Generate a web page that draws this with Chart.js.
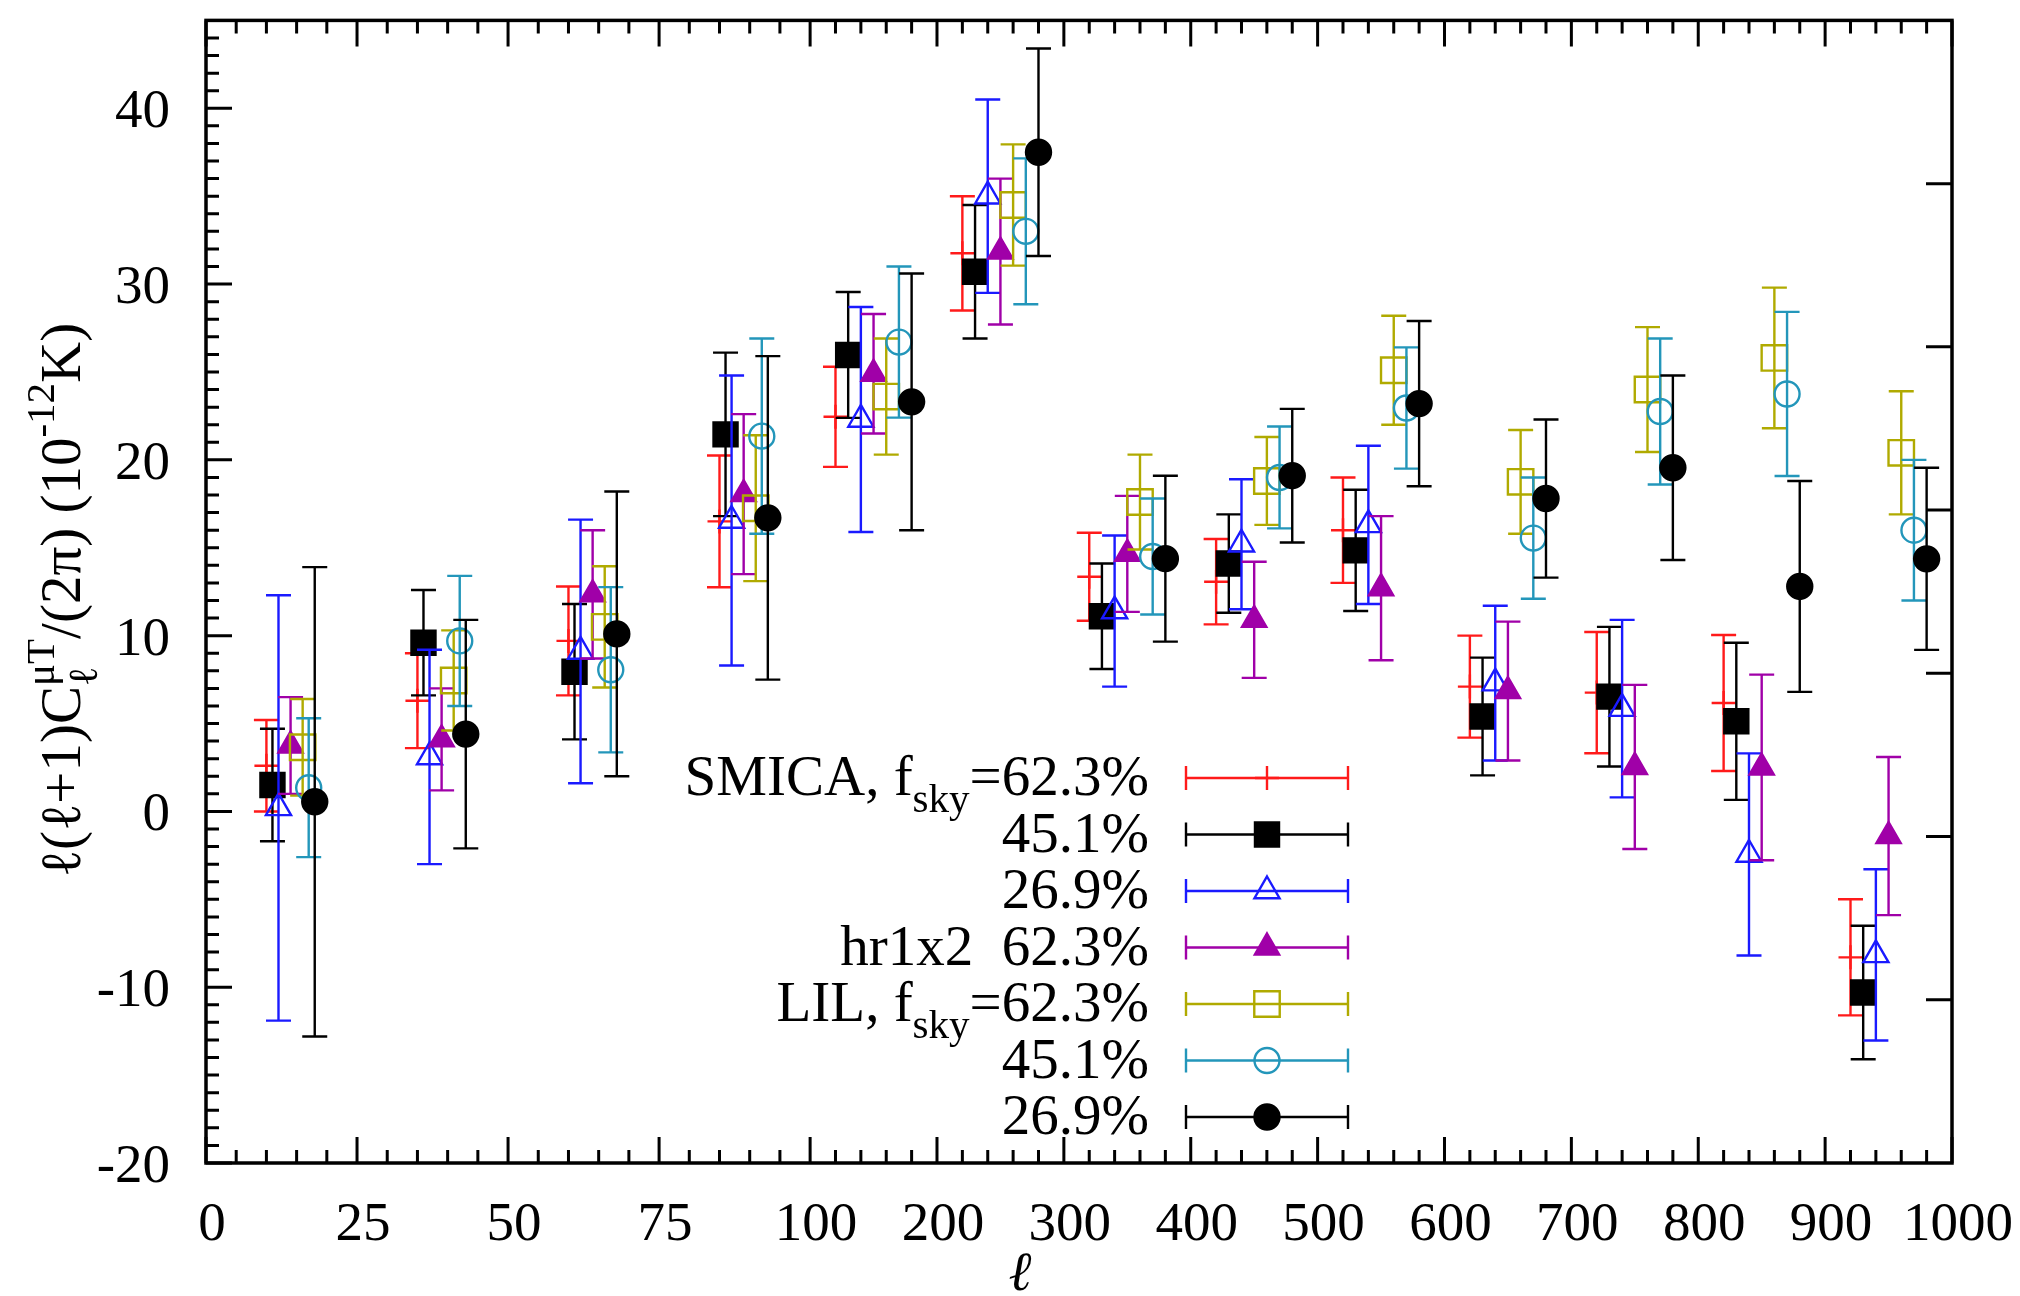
<!DOCTYPE html>
<html>
<head>
<meta charset="utf-8">
<script src="https://cdn.jsdelivr.net/npm/chart.js@4.4.1/dist/chart.umd.min.js"></script>
<style>
  html, body { margin: 0; padding: 0; background: #fff; }
  #wrap { width: 2020px; height: 1296px; position: relative; }
  canvas { display: block; }
</style>
</head>
<body>
<div id="wrap"><canvas id="chart" width="2020" height="1296"></canvas></div>
<script>
// ---- data: binned mu-T cross spectrum, l(l+1)C_l/(2pi) in 1e-12 K ----
const binCentres = [14, 39, 64, 89, 150, 250, 350, 450, 550, 650, 750, 850, 950];
const xTickValues = [0, 25, 50, 75, 100, 200, 300, 400, 500, 600, 700, 800, 900, 1000];
const yTickValues = [-20, -10, 0, 10, 20, 30, 40];

const smica623    = [2.6, 6.3, 9.7, 16.5, 22.45, 31.75, 13.35, 13.07, 16.0, 7.1, 6.76, 6.17, -8.3];
const smica623Err = [2.6, 2.7, 3.1, 3.75, 2.85, 3.25, 2.5, 2.43, 3.0, 2.9, 3.45, 3.87, 3.3];

const smica451    = [1.5, 9.6, 7.95, 21.45, 25.97, 30.7, 11.1, 14.1, 14.85, 5.4, 6.53, 5.13, -10.3];
const smica451Err = [3.2, 3.0, 3.85, 4.65, 3.58, 3.8, 3.0, 2.8, 3.45, 3.35, 3.97, 4.47, 3.8];

const smica269    = [0.2, 3.1, 9.1, 16.55, 22.3, 35.0, 11.4, 15.2, 16.3, 7.3, 5.85, -2.45, -8.16];
const smica269Err = [12.1, 6.1, 7.5, 8.25, 6.4, 5.5, 4.3, 3.7, 4.5, 4.4, 5.05, 5.75, 4.87];

const hr1x2_623    = [3.75, 4.1, 12.35, 18.05, 24.9, 31.85, 14.65, 10.9, 12.7, 6.85, 2.53, 2.5, -1.4];
const hr1x2_623Err = [2.75, 2.9, 3.65, 4.55, 3.4, 4.15, 3.3, 3.3, 4.1, 3.95, 4.67, 5.28, 4.5];

const lil623    = [3.65, 7.45, 10.5, 17.25, 23.6, 34.5, 17.6, 18.8, 25.1, 18.75, 24.0, 25.8, 20.4];
const lil623Err = [2.75, 2.85, 3.45, 4.15, 3.3, 3.45, 2.7, 2.5, 3.1, 2.95, 3.55, 4.0, 3.5];

const lil451    = [1.35, 9.7, 8.06, 21.35, 26.7, 33.0, 14.5, 19.0, 22.95, 15.55, 22.75, 23.75, 16.0];
const lil451Err = [3.95, 3.7, 4.7, 5.55, 4.3, 4.15, 3.3, 2.9, 3.45, 3.45, 4.15, 4.67, 4.0];

const lil269    = [0.55, 4.4, 10.1, 16.7, 23.3, 37.5, 14.38, 19.1, 23.2, 17.8, 19.55, 12.8, 14.37];
const lil269Err = [13.35, 6.5, 8.1, 9.2, 7.3, 5.9, 4.72, 3.8, 4.7, 4.5, 5.25, 6.0, 5.18];

// ---- styling ----
const FONT = "'Liberation Serif', 'Times New Roman', serif";
const FS = 55;
const KEY_FS = 57;
const LINE_W = 2.4;

// Each series is nudged sideways inside its bin so the bars do not overlap
// (lowShift applies below l = 100, highShift above).
const series = [
  { label: 'SMICA, f_sky=62.3%', values: smica623,  errors: smica623Err,  colour: '#ff1a1a', point: 'cross',    fill: false, radius: 12, lowShift: -4, highShift: -30 },
  { label: '45.1%',              values: smica451,  errors: smica451Err,  colour: '#000000', point: 'rect',     fill: true,  radius: 17, lowShift: -3, highShift: -20 },
  { label: '26.9%',              values: smica269,  errors: smica269Err,  colour: '#1a1aff', point: 'triangle', fill: false, radius: 14.5, lowShift: -2, highShift: -10 },
  { label: 'hr1x2  62.3%',       values: hr1x2_623, errors: hr1x2_623Err, colour: '#a000a8', point: 'triangle', fill: true,  radius: 14, lowShift: 0,  highShift: 0 },
  { label: 'LIL, f_sky=62.3%',   values: lil623,    errors: lil623Err,    colour: '#b0aa00', point: 'rect',     fill: false, radius: 18, lowShift: 2,  highShift: 10 },
  { label: '45.1%',              values: lil451,    errors: lil451Err,    colour: '#2396ba', point: 'circle',   fill: false, radius: 12.5, lowShift: 3, highShift: 20 },
  { label: '26.9%',              values: lil269,    errors: lil269Err,    colour: '#000000', point: 'circle',   fill: true,  radius: 12.5, lowShift: 4, highShift: 30 }
];

// ---- x axis: linear pieces 0..100 and 100..1000 sharing one frame ----
const LOW_SHARE = 0.346;
const BREAK_L = 100;
class SplitLinearScale extends Chart.LinearScale {
  getPixelForValue(value) {
    const lo = this.min, hi = this.max;
    let d;
    if (value <= BREAK_L) d = (value - lo) / (BREAK_L - lo) * LOW_SHARE;
    else d = LOW_SHARE + (value - BREAK_L) / (hi - BREAK_L) * (1 - LOW_SHARE);
    return this.getPixelForDecimal(d);
  }
  getValueForPixel(pixel) {
    const d = this.getDecimalForPixel(pixel);
    const lo = this.min, hi = this.max;
    if (d <= LOW_SHARE) return lo + d / LOW_SHARE * (BREAK_L - lo);
    return BREAK_L + (d - LOW_SHARE) / (1 - LOW_SHARE) * (hi - BREAK_L);
  }
}
SplitLinearScale.id = 'splitLinear';
SplitLinearScale.defaults = {};
Chart.register(SplitLinearScale);

// ---- rich text (sub/superscripts) ----
function richParts(str) {
  const parts = [];
  const re = /_([A-Za-z0-9]+)/g;
  let last = 0, m;
  while ((m = re.exec(str))) {
    if (m.index > last) parts.push({ t: str.slice(last, m.index) });
    parts.push({ sub: m[1] });
    last = re.lastIndex;
  }
  if (last < str.length) parts.push({ t: str.slice(last) });
  return parts;
}
function partWidth(ctx, p, size) {
  const small = size * 0.72;
  if (p.t !== undefined) { ctx.font = `${size}px ${FONT}`; return ctx.measureText(p.t).width; }
  ctx.font = `${small}px ${FONT}`;
  const a = p.sub ? ctx.measureText(p.sub).width : 0;
  const b = p.sup ? ctx.measureText(p.sup).width : 0;
  return Math.max(a, b);
}
function drawRich(ctx, parts, x, y, align, size) {
  const widths = parts.map(p => partWidth(ctx, p, size));
  const total = widths.reduce((s, w) => s + w, 0);
  let cx = align === 'right' ? x - total : align === 'center' ? x - total / 2 : x;
  ctx.textAlign = 'left';
  ctx.textBaseline = 'alphabetic';
  parts.forEach((p, i) => {
    if (p.t !== undefined) {
      ctx.font = `${size}px ${FONT}`;
      ctx.fillText(p.t, cx, y);
    } else {
      ctx.font = `${size * 0.72}px ${FONT}`;
      if (p.sub) ctx.fillText(p.sub, cx, y + size * 0.3);
      if (p.sup) ctx.fillText(p.sup, cx, y - size * 0.45);
    }
    cx += widths[i];
  });
}

// ---- plugins ----
const errorBars = {
  id: 'errorBars',
  beforeDatasetDraw(chart, args) {
    const ds = chart.data.datasets[args.index];
    const yScale = chart.scales.y;
    const ctx = chart.ctx;
    ctx.save();
    ctx.strokeStyle = ds.borderColor;
    ctx.lineWidth = LINE_W;
    ctx.lineCap = 'butt';
    args.meta.data.forEach((pt, i) => {
      const raw = ds.data[i];
      const top = yScale.getPixelForValue(raw.y + raw.err);
      const bot = yScale.getPixelForValue(raw.y - raw.err);
      const cap = 12.5;
      ctx.beginPath();
      ctx.moveTo(pt.x, top); ctx.lineTo(pt.x, bot);
      ctx.moveTo(pt.x - cap, top); ctx.lineTo(pt.x + cap, top);
      ctx.moveTo(pt.x - cap, bot); ctx.lineTo(pt.x + cap, bot);
      ctx.stroke();
    });
    ctx.restore();
  }
};

const frameAxes = {
  id: 'frameAxes',
  beforeDatasetsDraw(chart) {
    const { ctx, chartArea: a, scales } = chart;
    const xs = scales.x, ys = scales.y, y2 = scales.y2;
    const MAJ = 26, MIN = 13;
    ctx.save();
    ctx.strokeStyle = '#000';
    ctx.lineCap = 'butt';

    // x ticks, bottom and top, pointing inwards
    ctx.lineWidth = 3;
    ctx.beginPath();
    const xMinor = [];
    for (let v = 5; v < BREAK_L; v += 5) if (v % 25) xMinor.push(v);
    for (let v = 120; v < 1000; v += 20) if (v % 100) xMinor.push(v);
    xs.ticks.forEach(t => {
      const px = xs.getPixelForValue(t.value);
      ctx.moveTo(px, a.bottom); ctx.lineTo(px, a.bottom - MAJ);
      ctx.moveTo(px, a.top); ctx.lineTo(px, a.top + MAJ);
    });
    xMinor.forEach(v => {
      const px = xs.getPixelForValue(v);
      ctx.moveTo(px, a.bottom); ctx.lineTo(px, a.bottom - MIN);
      ctx.moveTo(px, a.top); ctx.lineTo(px, a.top + MIN);
    });
    // left ticks: majors every 10, minors every 1
    for (let v = ys.min; v <= ys.max; v += 1) {
      const py = ys.getPixelForValue(v);
      const len = (v % 10 === 0) ? MAJ : MIN;
      ctx.moveTo(a.left, py); ctx.lineTo(a.left + len, py);
    }
    // right ticks from the secondary axis
    y2.ticks.forEach(t => {
      const py = y2.getPixelForValue(t.value);
      if (py <= a.top + 2 || py >= a.bottom - 2) return;
      ctx.moveTo(a.right, py); ctx.lineTo(a.right - MAJ, py);
    });
    ctx.stroke();

    // frame
    ctx.lineWidth = 3.5;
    ctx.strokeRect(a.left, a.top, a.right - a.left, a.bottom - a.top);

    // tick labels
    ctx.fillStyle = '#000';
    ctx.font = `${FS}px ${FONT}`;
    ctx.textBaseline = 'alphabetic';
    ctx.textAlign = 'center';
    xs.ticks.forEach(t => {
      ctx.fillText(String(t.value), xs.getPixelForValue(t.value) + 6, a.bottom + 77);
    });
    ctx.textAlign = 'right';
    ys.ticks.forEach(t => {
      ctx.fillText(String(t.value), a.left - 36, ys.getPixelForValue(t.value) + 19);
    });

    // axis titles
    ctx.font = `italic ${FS}px ${FONT}`;
    ctx.textAlign = 'center';
    ctx.fillText('ℓ', 1020, 1290);

    ctx.save();
    ctx.translate(80, 600);
    ctx.rotate(-Math.PI / 2);
    drawRich(ctx, [
      { t: 'ℓ(ℓ+1)C' }, { sub: 'ℓ', sup: 'μT' }, { t: '/(2π) (10' }, { sup: '-12' }, { t: 'K)' }
    ], 0, 0, 'center', 57);
    ctx.restore();
    ctx.restore();
  }
};

const keyBox = {
  id: 'keyBox',
  afterDatasetsDraw(chart) {
    const ctx = chart.ctx;
    const textRight = 1149, lineL = 1186, lineR = 1348, rowTop = 778, rowStep = 56.5;
    ctx.save();
    chart.data.datasets.forEach((ds, i) => {
      const yRow = rowTop + i * rowStep;
      ctx.fillStyle = '#000';
      drawRich(ctx, richParts(ds.label), textRight, yRow + 17, 'right', KEY_FS);
      ctx.strokeStyle = ds.borderColor;
      ctx.lineWidth = LINE_W;
      ctx.beginPath();
      ctx.moveTo(lineL, yRow); ctx.lineTo(lineR, yRow);
      ctx.moveTo(lineL, yRow - 12); ctx.lineTo(lineL, yRow + 12);
      ctx.moveTo(lineR, yRow - 12); ctx.lineTo(lineR, yRow + 12);
      ctx.stroke();
      ctx.fillStyle = ds.pointBackgroundColor;
      ctx.strokeStyle = ds.borderColor;
      ctx.lineWidth = LINE_W;
      Chart.helpers.drawPoint(ctx, {
        pointStyle: ds.pointStyle, radius: ds.pointRadius, rotation: 0, borderWidth: LINE_W
      }, (lineL + lineR) / 2, yRow);
    });
    ctx.restore();
  }
};

// ---- build datasets ----
const datasets = series.map((s, k) => ({
  label: s.label,
  data: binCentres.map((l, i) => ({
    x: l + (l < BREAK_L ? s.lowShift : s.highShift),
    y: s.values[i],
    err: s.errors[i]
  })),
  showLine: false,
  pointStyle: s.point,
  pointRadius: s.radius,
  pointHoverRadius: s.radius,
  borderColor: s.colour,
  pointBorderColor: s.colour,
  pointBackgroundColor: s.fill ? s.colour : 'rgba(0,0,0,0)',
  backgroundColor: s.fill ? s.colour : 'rgba(0,0,0,0)',
  pointBorderWidth: LINE_W,
  order: -k
}));

new Chart(document.getElementById('chart'), {
  type: 'scatter',
  data: { datasets },
  options: {
    responsive: false,
    animation: false,
    devicePixelRatio: 1,
    layout: { padding: { left: 0, top: 17, right: 68, bottom: 0 } },
    plugins: { legend: { display: false }, tooltip: { enabled: false } },
    scales: {
      x: {
        type: 'splitLinear', min: 0, max: 1000,
        grid: { display: false }, border: { display: false },
        ticks: { display: false },
        afterBuildTicks: s => { s.ticks = xTickValues.map(v => ({ value: v })); },
        afterFit: s => { s.height = 133; }
      },
      y: {
        type: 'linear', position: 'left', min: -20, max: 45,
        grid: { display: false }, border: { display: false },
        ticks: { display: false },
        afterBuildTicks: s => { s.ticks = yTickValues.map(v => ({ value: v })); },
        afterFit: s => { s.width = 206; }
      },
      y2: {
        type: 'linear', position: 'right', min: -20, max: 50,
        display: false,
        ticks: { stepSize: 10 }
      }
    }
  },
  plugins: [frameAxes, errorBars, keyBox]
});
</script>
</body>
</html>
